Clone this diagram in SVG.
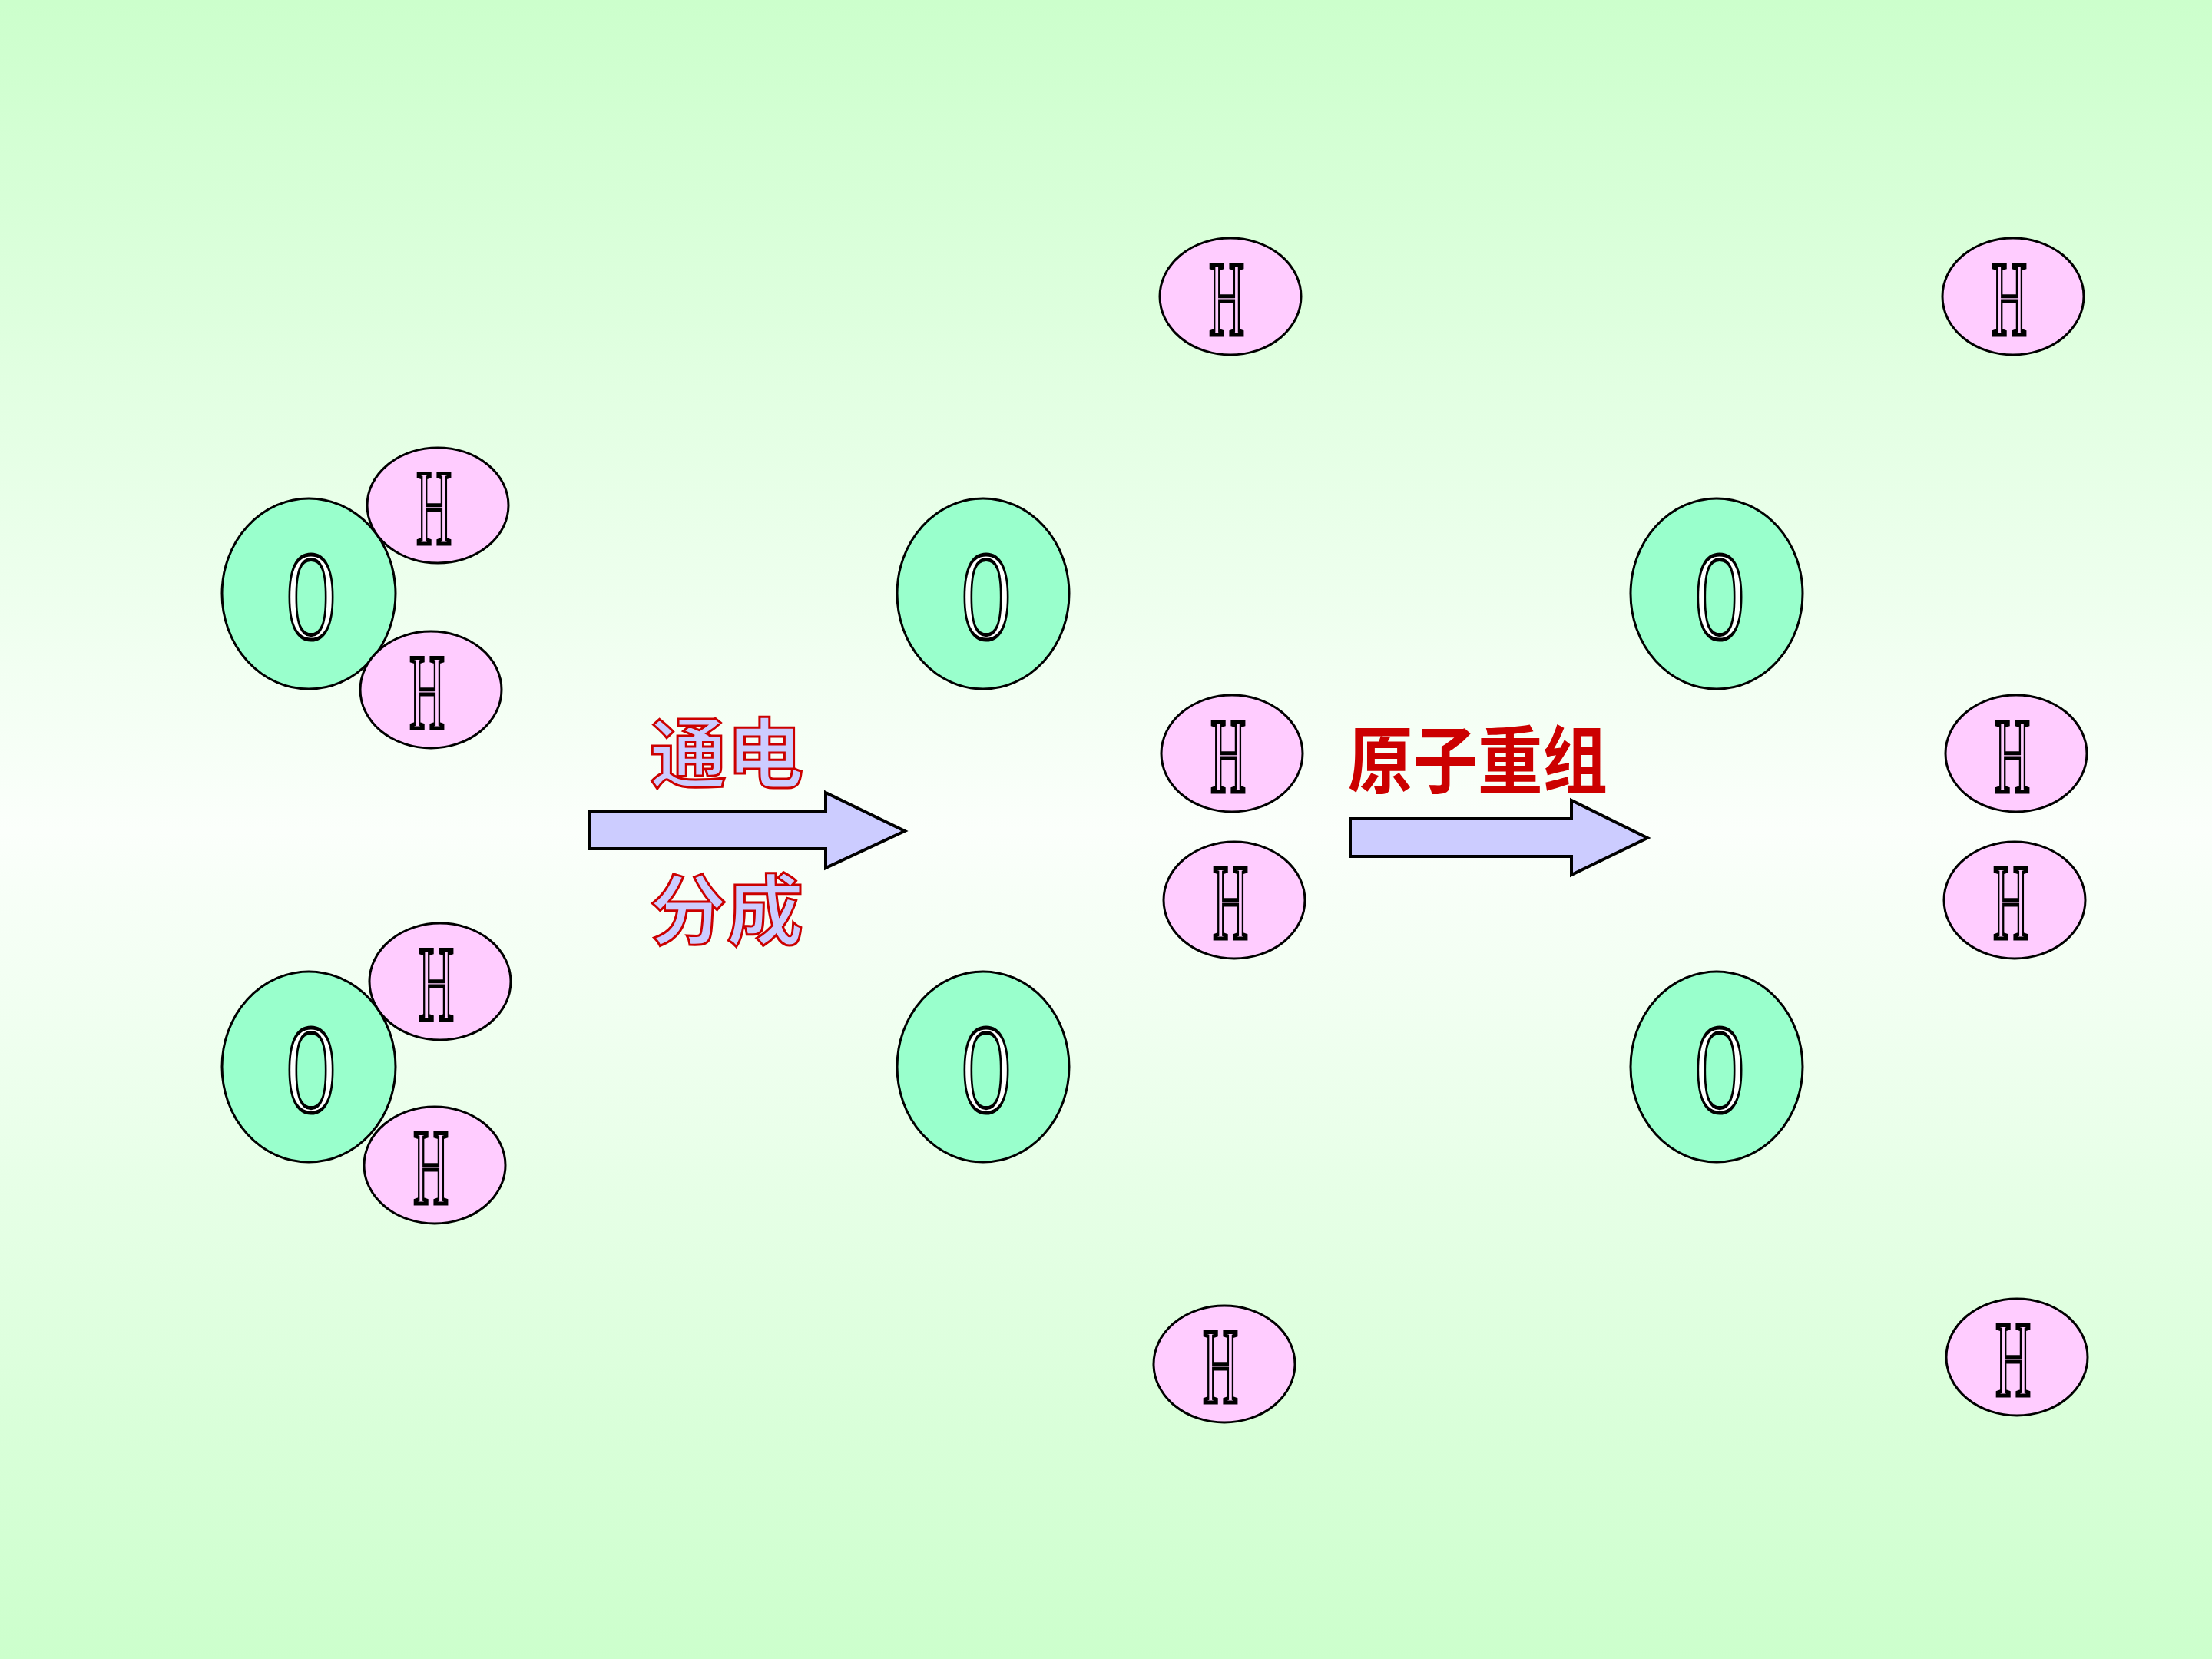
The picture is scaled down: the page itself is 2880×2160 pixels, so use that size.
<svg xmlns="http://www.w3.org/2000/svg" width="2880" height="2160" viewBox="0 0 2880 2160">
<defs>
<linearGradient id="bg" x1="0" y1="0" x2="0" y2="1">
<stop offset="0" stop-color="#ccffcc"/>
<stop offset="0.5" stop-color="#fbfffb"/>
<stop offset="1" stop-color="#ccffcc"/>
</linearGradient>
</defs>
<style>
.oa{fill:#99ffcc;stroke:#000;stroke-width:3}
.ha{fill:#ffccff;stroke:#000;stroke-width:3}
.ot{font-family:"Liberation Serif",serif;font-size:166px;fill:#fff;stroke:#000;stroke-width:5;text-anchor:middle}
.ht{font-family:"Liberation Serif",serif;font-size:139px;fill:#ffccff;stroke:#000;stroke-width:5;text-anchor:middle}
.arr{fill:#ccccff;stroke:#000;stroke-width:4}
.lbl1{font-family:"Noto Sans CJK SC",sans-serif;font-size:100px;font-weight:bold;fill:#ccccff;stroke:#cc0000;stroke-width:3}
.lbl2{font-family:"Noto Sans CJK SC",sans-serif;font-size:96px;font-weight:bold;fill:#cc0000}
</style>
<rect x="0" y="0" width="2880" height="2160" fill="url(#bg)"/>

<g id="mol1-O"><ellipse class="oa" cx="402" cy="773" rx="113" ry="124"/><text class="ot" transform="translate(405,831) scale(0.53,1)">O</text></g>
<g id="mol1-H1"><ellipse class="ha" cx="570" cy="658" rx="92" ry="75"/><text class="ht" transform="translate(565,708) scale(0.46,1)">H</text></g>
<g id="mol1-H2"><ellipse class="ha" cx="561" cy="898" rx="92" ry="76"/><text class="ht" transform="translate(556,948) scale(0.46,1)">H</text></g>

<g id="mol2-O"><ellipse class="oa" cx="402" cy="1389" rx="113" ry="124"/><text class="ot" transform="translate(405,1447) scale(0.53,1)">O</text></g>
<g id="mol2-H1"><ellipse class="ha" cx="573" cy="1278" rx="92" ry="76"/><text class="ht" transform="translate(568,1328) scale(0.46,1)">H</text></g>
<g id="mol2-H2"><ellipse class="ha" cx="566" cy="1517" rx="92" ry="76"/><text class="ht" transform="translate(561,1567) scale(0.46,1)">H</text></g>

<g id="mid-O1"><ellipse class="oa" cx="1280" cy="773" rx="112" ry="124"/><text class="ot" transform="translate(1284,831) scale(0.53,1)">O</text></g>
<g id="mid-O2"><ellipse class="oa" cx="1280" cy="1389" rx="112" ry="124"/><text class="ot" transform="translate(1284,1447) scale(0.53,1)">O</text></g>
<g id="mid-H1"><ellipse class="ha" cx="1602" cy="386" rx="92" ry="76"/><text class="ht" transform="translate(1597,436) scale(0.46,1)">H</text></g>
<g id="mid-H2"><ellipse class="ha" cx="1604" cy="981" rx="92" ry="76"/><text class="ht" transform="translate(1599,1031) scale(0.46,1)">H</text></g>
<g id="mid-H3"><ellipse class="ha" cx="1607" cy="1172" rx="92" ry="76"/><text class="ht" transform="translate(1602,1222) scale(0.46,1)">H</text></g>
<g id="mid-H4"><ellipse class="ha" cx="1594" cy="1776" rx="92" ry="76"/><text class="ht" transform="translate(1589,1826) scale(0.46,1)">H</text></g>

<g id="right-O1"><ellipse class="oa" cx="2235" cy="773" rx="112" ry="124"/><text class="ot" transform="translate(2239,831) scale(0.53,1)">O</text></g>
<g id="right-O2"><ellipse class="oa" cx="2235" cy="1389" rx="112" ry="124"/><text class="ot" transform="translate(2239,1447) scale(0.53,1)">O</text></g>
<g id="right-H1"><ellipse class="ha" cx="2621" cy="386" rx="92" ry="76"/><text class="ht" transform="translate(2616,436) scale(0.46,1)">H</text></g>
<g id="right-H2"><ellipse class="ha" cx="2625" cy="981" rx="92" ry="76"/><text class="ht" transform="translate(2620,1031) scale(0.46,1)">H</text></g>
<g id="right-H3"><ellipse class="ha" cx="2623" cy="1172" rx="92" ry="76"/><text class="ht" transform="translate(2618,1222) scale(0.46,1)">H</text></g>
<g id="right-H4"><ellipse class="ha" cx="2626" cy="1767" rx="92" ry="76"/><text class="ht" transform="translate(2621,1817) scale(0.46,1)">H</text></g>

<g id="connectors">
<g id="arrow1">
<polygon class="arr" points="768,1057 1075,1057 1075,1032 1178,1082 1075,1130 1075,1105 768,1105"/>
<text class="lbl1" x="846" y="1018">通电</text>
<text class="lbl1" x="846" y="1222">分成</text>
</g>
<g id="arrow2">
<polygon class="arr" points="1758,1066 2046,1066 2046,1042 2145,1091 2046,1139 2046,1115 1758,1115"/>
<text class="lbl2" x="1755" y="1025" textLength="338" lengthAdjust="spacingAndGlyphs">原子重组</text>
</g>
</g>
</svg>
